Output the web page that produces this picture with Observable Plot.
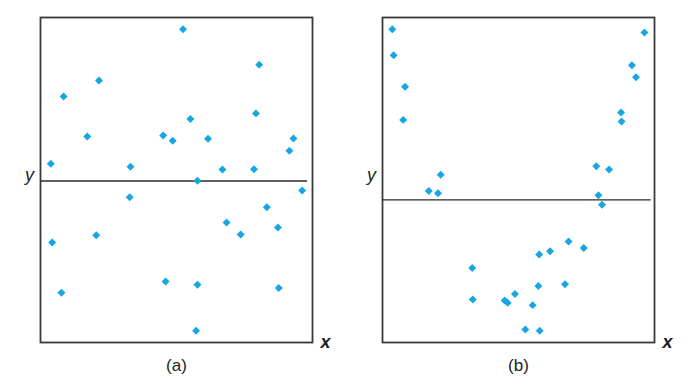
<!DOCTYPE html>
<html>
<head>
<meta charset="utf-8">
<script src="https://cdn.jsdelivr.net/npm/d3@7"></script>
<script src="https://cdn.jsdelivr.net/npm/@observablehq/plot@0.6"></script>
<style>
  html, body { margin: 0; padding: 0; background: #fff; }
  #chart { width: 698px; height: 388px; }
</style>
</head>
<body>
<div id="chart"></div>
<script>
// Panel (a): random scatter
const ax = [5.24, 8.04, 2.15, 0.85, 5.51, 7.92, 1.72, 4.51, 4.86, 6.16, 9.30, 9.15, 0.38, 3.31, 6.69, 7.85, 5.77, 9.62, 3.28, 8.32, 6.84, 7.36, 8.73, 0.43, 2.05, 4.60, 5.77, 8.76, 0.77, 5.72];
const ay = [9.64, 8.55, 8.06, 7.57, 6.88, 7.05, 6.34, 6.37, 6.21, 6.27, 6.28, 5.90, 5.50, 5.41, 5.32, 5.33, 4.98, 4.68, 4.47, 4.16, 3.69, 3.32, 3.54, 3.08, 3.30, 1.88, 1.78, 1.68, 1.53, 0.36];
// Panel (b): U-shaped scatter
const bx = [0.36, 0.41, 0.83, 0.76, 9.63, 9.17, 9.32, 8.77, 8.79, 2.14, 1.70, 2.04, 7.86, 8.33, 7.94, 8.07, 3.30, 3.32, 4.49, 4.60, 4.87, 5.52, 5.73, 5.76, 6.16, 6.84, 7.40, 6.71, 5.25, 5.78];
const by = [9.64, 8.84, 7.87, 6.85, 9.54, 8.53, 8.16, 7.08, 6.80, 5.16, 4.66, 4.59, 5.42, 5.32, 4.53, 4.24, 2.29, 1.32, 1.29, 1.22, 1.49, 1.15, 1.74, 2.71, 2.81, 3.11, 2.91, 1.79, 0.40, 0.36];
// Horizontal reference lines (mean level) per panel
const panels = ["(a)", "(b)"];
const lineY = [4.97, 4.39];
const lineEnd = [9.82, 9.88];

const points = [
  ...ax.map((x, i) => ({panel: "(a)", x, y: ay[i]})),
  ...bx.map((x, i) => ({panel: "(b)", x, y: by[i]}))
];
const lines = panels.map((p, i) => ({panel: p, y: lineY[i], x2: lineEnd[i]}));
const yLabels = panels.map(p => ({panel: p, x: 0, y: 5.14, t: "y"}));
const xLabels = panels.map(p => ({panel: p, x: 10, y: 0, t: "x"}));
const captions = panels.map(p => ({panel: p, x: 5, y: 0, t: p}));

const font = "'Liberation Sans', Arial, Helvetica, sans-serif";

const chart = Plot.plot({
  width: 698,
  height: 388,
  marginLeft: 39,
  marginRight: 43,
  marginTop: 17,
  marginBottom: 46,
  style: {fontFamily: font, background: "#fff"},
  fx: {domain: panels, padding: 0.204, axis: null},
  x: {domain: [0, 10], axis: null},
  y: {domain: [0, 10], axis: null},
  marks: [
    Plot.frame({stroke: "#3a3a3a", strokeWidth: 1.8}),
    Plot.ruleY(lines, {fx: "panel", y: "y", x1: 0, x2: "x2", stroke: "#2a2a2a", strokeWidth: 1.4}),
    Plot.dot(points, {fx: "panel", x: "x", y: "y", symbol: "diamond2", r: 3.6, fill: "#16a6e4", stroke: "none"}),
    Plot.text(yLabels, {fx: "panel", x: "x", y: "y", text: "t", dx: -11, fontSize: 18, fontStyle: "italic", fill: "#222", textAnchor: "middle"}),
    Plot.text(xLabels, {fx: "panel", x: "x", y: "y", text: "t", dx: 13, fontSize: 18, fontStyle: "italic", fontWeight: "bold", fill: "#222", textAnchor: "middle"}),
    Plot.text(captions, {fx: "panel", x: "x", y: "y", text: "t", dy: 23, fontSize: 17, fill: "#222", textAnchor: "middle"})
  ]
});
document.getElementById("chart").appendChild(chart);
</script>
</body>
</html>
